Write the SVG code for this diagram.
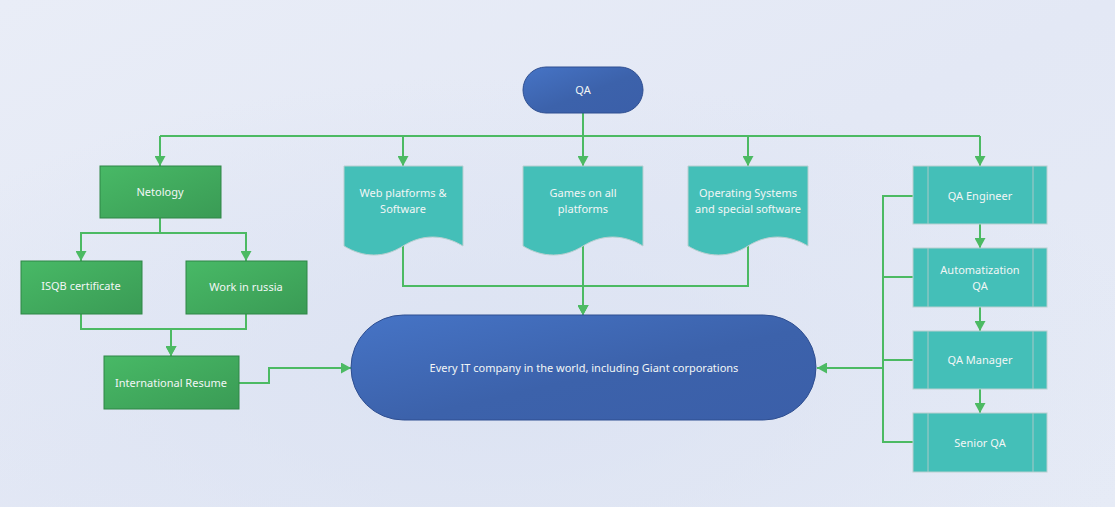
<svg xmlns="http://www.w3.org/2000/svg" width="1115" height="507" viewBox="0 0 1115 507">
<defs>
<linearGradient id="bg" x1="0" y1="0" x2="1" y2="1">
<stop offset="0" stop-color="#e9edf7"/>
<stop offset="0.5" stop-color="#e3e8f5"/>
<stop offset="1" stop-color="#e6ebf6"/>
</linearGradient>
<radialGradient id="bg2" cx="0.45" cy="0.75" r="0.6">
<stop offset="0" stop-color="#dbe2f2" stop-opacity="0.9"/>
<stop offset="1" stop-color="#dbe2f2" stop-opacity="0"/>
</radialGradient>
<linearGradient id="gG" x1="0" y1="0" x2="1" y2="1">
<stop offset="0" stop-color="#48b966"/>
<stop offset="1" stop-color="#3a9b55"/>
</linearGradient>
<linearGradient id="gB" x1="0" y1="0" x2="1" y2="1">
<stop offset="0" stop-color="#4674c6"/>
<stop offset="0.55" stop-color="#3c62ab"/>
<stop offset="1" stop-color="#3b5fa9"/>
</linearGradient>
<marker id="arr" markerUnits="userSpaceOnUse" markerWidth="11" markerHeight="11" refX="10" refY="5.5" orient="auto">
<path d="M0,0 L10,5.5 L0,11 z" fill="#4cba63"/>
</marker>
</defs>
<style>
.t{font-family:"Noto Sans","Open Sans","DejaVu Sans",sans-serif;font-size:11px;fill:#f2f6f6;text-anchor:middle}
.grn{fill:url(#gG);stroke:#2f8646;stroke-width:1}
.teal{fill:#44bfb8;stroke:#b9cfd0;stroke-width:1}
.inner{stroke:#a9c9c8;stroke-width:1;fill:none}
.blue{fill:url(#gB);stroke:#2f4f91;stroke-width:1}
.c{fill:none;stroke:#4cba63;stroke-width:2}
.ca{fill:none;stroke:#4cba63;stroke-width:2;marker-end:url(#arr)}
</style>
<rect x="0" y="0" width="1115" height="507" fill="url(#bg)"/>
<rect x="0" y="0" width="1115" height="507" fill="url(#bg2)"/>

<g id="connectors">
<path class="c" d="M583,113 V136 M160,136 H980"/>
<path class="ca" d="M160,136 V166"/>
<path class="ca" d="M403,136 V166"/>
<path class="ca" d="M583,136 V166"/>
<path class="ca" d="M748,136 V166"/>
<path class="ca" d="M980,136 V166"/>
<path class="ca" d="M160,218 V233 H81 V261"/>
<path class="ca" d="M160,218 V233 H246 V261"/>
<path class="ca" d="M81,314 V329 H171 V356"/>
<path class="ca" d="M246,314 V329 H171 V356"/>
<path class="ca" d="M239,383 H269 V368 H351"/>
<path class="ca" d="M403,246 V286 H583 V315"/>
<path class="ca" d="M748,246 V286 H583 V315"/>
<path class="ca" d="M583,246 V315"/>
<path class="ca" d="M980,224 V248"/>
<path class="ca" d="M980,307 V331"/>
<path class="ca" d="M980,389 V413"/>
<path class="c" d="M913,196 H883 V442 H913 M913,277 H883 M913,360 H883"/>
<path class="ca" d="M883,368 H817"/>
</g>

<g id="qa">
<rect class="blue" x="523" y="67" width="120" height="46" rx="23"/>
<text class="t" x="583" y="94">QA</text>
</g>

<g id="netology">
<rect class="grn" x="100" y="166" width="121" height="52"/>
<text class="t" x="160" y="196">Netology</text>
</g>
<g id="isqb">
<rect class="grn" x="21" y="261" width="121" height="53"/>
<text class="t" x="81" y="290">ISQB certificate</text>
</g>
<g id="work">
<rect class="grn" x="186" y="261" width="121" height="53"/>
<text class="t" x="246" y="291">Work in russia</text>
</g>
<g id="resume">
<rect class="grn" x="104" y="356" width="135" height="53"/>
<text class="t" x="171" y="387">International Resume</text>
</g>

<g id="web">
<path class="teal" d="M344,166 H463 V246 C443,234 422,234 403,246 C384,258 364,258 344,246 Z"/>
<text class="t" x="403" y="197">Web platforms &amp;</text>
<text class="t" x="403" y="213">Software</text>
</g>
<g id="games">
<path class="teal" d="M523,166 H643 V246 C623,234 602,234 583,246 C564,258 543,258 523,246 Z"/>
<text class="t" x="583" y="197">Games on all</text>
<text class="t" x="583" y="213">platforms</text>
</g>
<g id="os">
<path class="teal" d="M688,166 H808 V246 C788,234 767,234 748,246 C729,258 708,258 688,246 Z"/>
<text class="t" x="748" y="197">Operating Systems</text>
<text class="t" x="748" y="213">and special software</text>
</g>

<g id="every">
<rect class="blue" x="351" y="315" width="465" height="105" rx="52.5"/>
<text class="t" x="584" y="372">Every IT company in the world, including Giant corporations</text>
</g>

<g id="qaengineer">
<rect class="teal" x="913" y="166" width="134" height="58"/>
<path class="inner" d="M928,166 V224 M1033,166 V224"/>
<text class="t" x="980" y="200">QA Engineer</text>
</g>
<g id="automatization">
<rect class="teal" x="913" y="248" width="134" height="59"/>
<path class="inner" d="M928,248 V307 M1033,248 V307"/>
<text class="t" x="980" y="274">Automatization</text>
<text class="t" x="980" y="290">QA</text>
</g>
<g id="qamanager">
<rect class="teal" x="913" y="331" width="134" height="58"/>
<path class="inner" d="M928,331 V389 M1033,331 V389"/>
<text class="t" x="980" y="364">QA Manager</text>
</g>
<g id="seniorqa">
<rect class="teal" x="913" y="413" width="134" height="59"/>
<path class="inner" d="M928,413 V472 M1033,413 V472"/>
<text class="t" x="980" y="447">Senior QA</text>
</g>
</svg>
